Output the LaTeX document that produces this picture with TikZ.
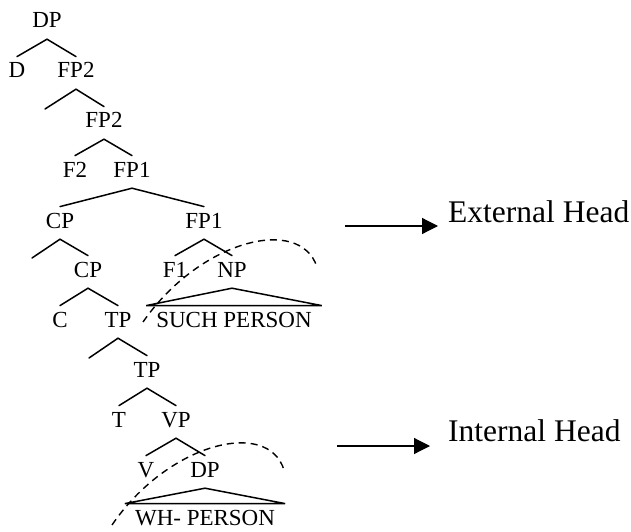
\documentclass[tikz,border=0pt]{standalone}
\usepackage{fontspec}
\setmainfont{Liberation Serif}
\usetikzlibrary{arrows.meta}
\tikzset{
  tn/.style={anchor=base, font=\fontsize{23}{23}\selectfont, text height=15.2pt, text depth=5pt, inner ysep=6pt, inner xsep=0pt},
  tri/.style={tn, inner xsep=10pt},
  br/.style={line width=1.5pt, line cap=round},
  hl/.style={anchor=base west, font=\fontsize{31.5}{31.5}\selectfont, inner sep=0pt},
  harrow/.style={line width=1.2pt, -{Triangle[length=16pt,width=16pt]}},
  darc/.style={line width=1.4pt, dash pattern=on 7pt off 5pt}
}
\begin{document}
\begin{tikzpicture}[x=1pt,y=-1pt]
\useasboundingbox (0,0) rectangle (631,532);
% nodes
\node[tn] (DPa) at (47,28) {DP};
\node[tn] (D) at (17,78) {D};
\node[tn] (FP2a) at (76,78) {FP2};
\coordinate (e1) at (45,109);
\node[tn] (FP2b) at (104,128) {FP2};
\node[tn] (F2) at (75,177) {F2};
\node[tn] (FP1a) at (132,177) {FP1};
\node[tn] (CPa) at (60,228) {CP};
\node[tn] (FP1b) at (204,228) {FP1};
\coordinate (e2) at (32,258);
\node[tn] (CPb) at (88,277) {CP};
\node[tn] (F1) at (175,277) {F1};
\node[tn] (NP) at (232,277) {NP};
\node[tri] (SP) at (234,327) {SUCH PERSON};
\node[tn] (C) at (60,327) {C};
\node[tn] (TPa) at (118,327) {TP};
\coordinate (e3) at (89,358);
\node[tn] (TPb) at (147,377) {TP};
\node[tn] (T) at (119,427) {T};
\node[tn] (VP) at (176,427) {VP};
\node[tn] (V) at (146,477) {V};
\node[tn] (DPb) at (205,477) {DP};
\node[tri] (WH) at (205,525) {WH- PERSON};
% branches
\draw[br] (D.north) -- (DPa.south) -- (FP2a.north);
\draw[br] (e1) -- (FP2a.south) -- (FP2b.north);
\draw[br] (F2.north) -- (FP2b.south) -- (FP1a.north);
\draw[br] (CPa.north) -- (FP1a.south) -- (FP1b.north);
\draw[br] (e2) -- (CPa.south) -- (CPb.north);
\draw[br] (F1.north) -- (FP1b.south) -- (NP.north);
\draw[br] (C.north) -- (CPb.south) -- (TPa.north);
\draw[br] (e3) -- (TPa.south) -- (TPb.north);
\draw[br] (T.north) -- (TPb.south) -- (VP.north);
\draw[br] (V.north) -- (VP.south) -- (DPb.north);
\draw[br, line join=miter] (NP.south) -- (SP.north west) -- (SP.north east) -- cycle;
\draw[br, line join=miter] (DPb.south) -- (WH.north west) -- (WH.north east) -- cycle;
% dashed arcs
\draw[darc] (143,322) .. controls (200,240) and (300,215) .. (317,267);
\draw[darc] (112,525) .. controls (168,443) and (268,418) .. (284,470);
% head labels
\node[hl] (EH) at (448,222) {External Head};
\node[hl] (IH) at (448,441) {Internal Head};
\coordinate (ea1) at (345,226);
\coordinate (ea2) at (438,226);
\coordinate (ia1) at (337,446);
\coordinate (ia2) at (430,446);
\draw[harrow] (ea1) -- (ea2);
\draw[harrow] (ia1) -- (ia2);
\end{tikzpicture}
\end{document}
